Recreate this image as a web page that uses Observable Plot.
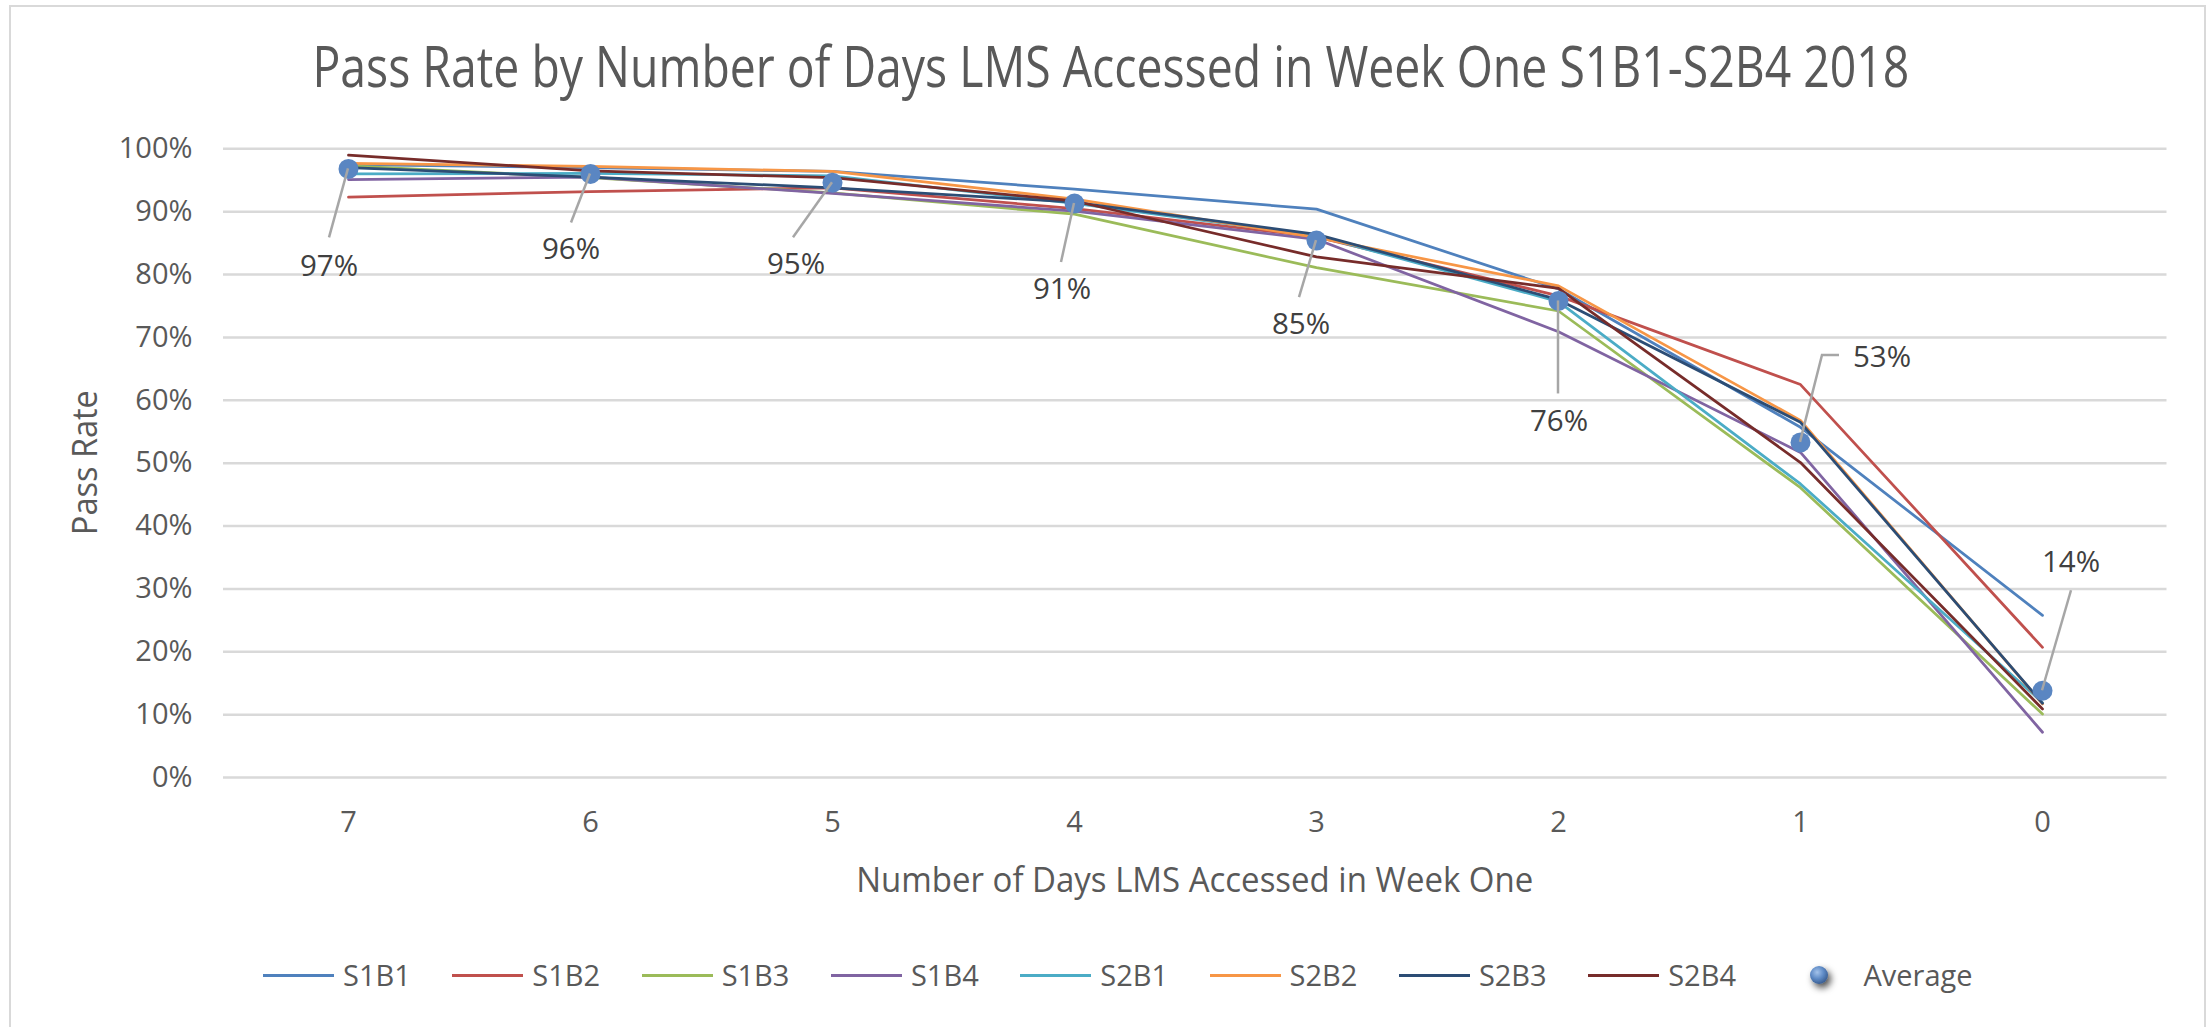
<!DOCTYPE html>
<html>
<head>
<meta charset="utf-8">
<script src="https://cdn.jsdelivr.net/npm/d3@7"></script>
<script src="https://cdn.jsdelivr.net/npm/@observablehq/plot@0.6"></script>
<style>
  html, body { margin: 0; padding: 0; background: #fff; }
  #wrap { position: relative; width: 2208px; height: 1027px; overflow: hidden; background: #fff; font-family: 'Open Sans', sans-serif; }
  #frame { position: absolute; left: 9px; top: 5px; width: 2197px; height: 1060px; border: 2.5px solid #d9d9d9; box-sizing: border-box; }
  #title { position: absolute; left: 0; top: 37px; width: 2208px; text-align: center; font-size: 56px; line-height: 56px; color: #595959; white-space: nowrap; }
  #title span { display: inline-block; transform-origin: 50% 50%; }
  #plot { position: absolute; left: 0; top: 110px; }
  #legend { position: absolute; left: 263px; top: 955px; height: 40px; display: flex; align-items: center; gap: 41.5px; font-size: 29px; line-height: 40px; color: #595959; white-space: nowrap; }
  .item { display: flex; align-items: center; }
  .sw { width: 71px; height: 3px; margin-right: 9px; }
  .swbox { width: 71px; height: 40px; margin-right: 9px; display: flex; align-items: center; justify-content: center; }
  .avgItem { margin-left: 6px; }
</style>
</head>
<body>
<div id="wrap">
  <div id="frame"></div>
  <div id="title"><span id="titleText"></span></div>
  <div id="plot"></div>
  <div id="legend"></div>
</div>
<script>
// ---------- data ----------
const titleText = "Pass Rate by Number of Days LMS Accessed in Week One S1B1-S2B4 2018";
const xTitle = "Number of Days LMS Accessed in Week One";
const yTitle = "Pass Rate";
const days = ["7", "6", "5", "4", "3", "2", "1", "0"];
const seriesNames = ["S1B1", "S1B2", "S1B3", "S1B4", "S2B1", "S2B2", "S2B3", "S2B4"];
const seriesColors = ["#4f81bd", "#c0504d", "#9bbb59", "#8064a2", "#4bacc6", "#f79646", "#2c4d75", "#772c2a"];
const S1B1 = [0.975, 0.970, 0.964, 0.936, 0.904, 0.777, 0.557, 0.258];
const S1B2 = [0.923, 0.932, 0.938, 0.905, 0.860, 0.766, 0.625, 0.207];
const S1B3 = [0.973, 0.954, 0.930, 0.896, 0.811, 0.742, 0.461, 0.101];
const S1B4 = [0.951, 0.955, 0.929, 0.901, 0.856, 0.709, 0.517, 0.072];
const S2B1 = [0.960, 0.961, 0.957, 0.913, 0.862, 0.757, 0.467, 0.119];
const S2B2 = [0.977, 0.972, 0.964, 0.920, 0.859, 0.782, 0.568, 0.117];
const S2B3 = [0.970, 0.955, 0.938, 0.915, 0.864, 0.760, 0.565, 0.118];
const S2B4 = [0.990, 0.965, 0.954, 0.917, 0.828, 0.778, 0.501, 0.109];
const averageName = "Average";
const average = [0.968, 0.960, 0.946, 0.913, 0.854, 0.758, 0.533, 0.138];
const yTicks = [0, 0.1, 0.2, 0.3, 0.4, 0.5, 0.6, 0.7, 0.8, 0.9, 1.0];

// ---------- label layout (pixel offsets from each average marker; styling only) ----------
const labelLayout = [
  { label: [-19, 97],  leader: [[-19, 69]] },
  { label: [-19, 75],  leader: [[-19, 49]] },
  { label: [-36, 81],  leader: [[-39, 55]] },
  { label: [-12, 85],  leader: [[-13, 59]] },
  { label: [-15, 83],  leader: [[-17, 57]] },
  { label: [1, 120],   leader: [[0, 93]] },
  { label: [82, -85],  leader: [[22, -87], [39, -87]] },
  { label: [29, -129], leader: [[29, -100]] }
];

// ---------- build tables ----------
const seriesValues = [S1B1, S1B2, S1B3, S1B4, S2B1, S2B2, S2B3, S2B4];
const rows = [];
seriesNames.forEach((name, s) => {
  days.forEach((day, i) => rows.push({ series: name, day, value: seriesValues[s][i] }));
});
const avgRows = days.map((day, i) => ({ day, value: average[i] }));
const pct = d3.format(".0%");

// custom mark: data labels with leader lines + axis titles
function annotations(...args) {
  const scales = args.find(a => a && typeof a.x === "function" && typeof a.y === "function");
  const dims = args.find(a => a && typeof a.width === "number" && typeof a.marginLeft === "number");
  const xs = scales.x, ys = scales.y;
  const half = xs.bandwidth ? xs.bandwidth() / 2 : 0;
  const g = d3.create("svg:g").attr("font-family", "'Open Sans', sans-serif");
  avgRows.forEach((d, i) => {
    const cx = xs(d.day) + half, cy = ys(d.value);
    const o = labelLayout[i];
    const pts = [[cx, cy]].concat(o.leader.map(([dx, dy]) => [cx + dx, cy + dy]));
    g.append("path").attr("d", d3.line()(pts)).attr("fill", "none")
      .attr("stroke", "#a6a6a6").attr("stroke-width", 2.5);
    g.append("text").attr("x", cx + o.label[0]).attr("y", cy + o.label[1])
      .attr("dy", "0.357em").attr("text-anchor", "middle").attr("font-size", 29.5)
      .attr("fill", "#404040").text(pct(d.value));
  });
  const x0 = dims.marginLeft, x1 = dims.width - dims.marginRight;
  const y0 = dims.marginTop, y1 = dims.height - dims.marginBottom;
  g.append("text").attr("x", (x0 + x1) / 2).attr("y", y1 + 115)
    .attr("text-anchor", "middle").attr("font-size", 35).attr("fill", "#595959")
    .attr("textLength", 677).attr("lengthAdjust", "spacingAndGlyphs").text(xTitle);
  g.append("text").attr("transform", `translate(97,${(y0 + y1) / 2}) rotate(-90)`)
    .attr("text-anchor", "middle").attr("font-size", 35).attr("fill", "#595959")
    .attr("textLength", 145).attr("lengthAdjust", "spacingAndGlyphs").text(yTitle);
  return g.node();
}

const svg = Plot.plot({
  width: 2208,
  height: 820,
  marginLeft: 223,
  marginRight: 41.5,
  marginTop: 38.3,
  marginBottom: 153,
  style: { fontFamily: "'Open Sans', sans-serif", fontSize: "29px", color: "#595959", background: "transparent", overflow: "visible" },
  x: { type: "band", domain: days, padding: 0, label: null },
  y: { domain: [0, 1], label: null },
  color: { domain: seriesNames, range: seriesColors },
  marks: [
    Plot.gridY({ ticks: yTicks, stroke: "#d9d9d9", strokeOpacity: 1, strokeWidth: 2.5 }),
    Plot.axisY({ ticks: yTicks, tickFormat: pct, tickSize: 0, tickPadding: 31, label: null, fontSize: 29 }),
    Plot.axisX({ tickSize: 0, tickPadding: 34, label: null, fontSize: 29 }),
    Plot.line(rows, { x: "day", y: "value", z: "series", stroke: "series", strokeWidth: 2.75, strokeLinejoin: "round", strokeLinecap: "round" }),
    Plot.dot(avgRows, { x: "day", y: "value", r: 10, fill: "#5a86c2", ariaLabel: "average" }),
    annotations
  ]
});

// marker styling (gradient sphere + drop shadow)
function addDefs(sel, id) {
  const defs = sel.insert("defs", ":first-child");
  const grad = defs.append("radialGradient").attr("id", "grad" + id).attr("cx", "40%").attr("cy", "35%").attr("r", "65%");
  grad.append("stop").attr("offset", "0%").attr("stop-color", "#a3c2ea");
  grad.append("stop").attr("offset", "55%").attr("stop-color", "#5f8bc6");
  grad.append("stop").attr("offset", "100%").attr("stop-color", "#3b5f93");
  const f = defs.append("filter").attr("id", "shadow" + id).attr("x", "-100%").attr("y", "-100%").attr("width", "300%").attr("height", "300%");
  f.append("feDropShadow").attr("dx", 3).attr("dy", 4).attr("stdDeviation", 3.5).attr("flood-color", "#000").attr("flood-opacity", 0.7);
}
const s = d3.select(svg);
addDefs(s, "Main");
const avgG = s.select('g[aria-label="average"]');
avgG.attr("filter", "url(#shadowMain)");
avgG.selectAll("circle").attr("fill", "url(#gradMain)");
document.getElementById("plot").appendChild(svg);

// title
const tEl = document.getElementById("titleText");
tEl.textContent = titleText;
function fitTitle() {
  tEl.style.transform = "none";
  const w = tEl.getBoundingClientRect().width;
  tEl.style.transform = `translateX(7px) scaleX(${1597 / w})`;
}
fitTitle();
if (document.fonts && document.fonts.ready) document.fonts.ready.then(fitTitle);

// legend
const legend = d3.select("#legend");
seriesNames.forEach((name, i) => {
  const item = legend.append("div").attr("class", "item");
  item.append("div").attr("class", "sw").style("background", seriesColors[i]);
  item.append("span").text(name);
});
const avgItem = legend.append("div").attr("class", "item avgItem");
const box = avgItem.append("div").attr("class", "swbox");
const ls = box.append("svg").attr("width", 40).attr("height", 40).style("overflow", "visible");
addDefs(ls, "Leg");
ls.append("circle").attr("cx", 20).attr("cy", 20).attr("r", 9).attr("fill", "url(#gradLeg)").attr("filter", "url(#shadowLeg)");
avgItem.append("span").text(averageName);
</script>
</body>
</html>
